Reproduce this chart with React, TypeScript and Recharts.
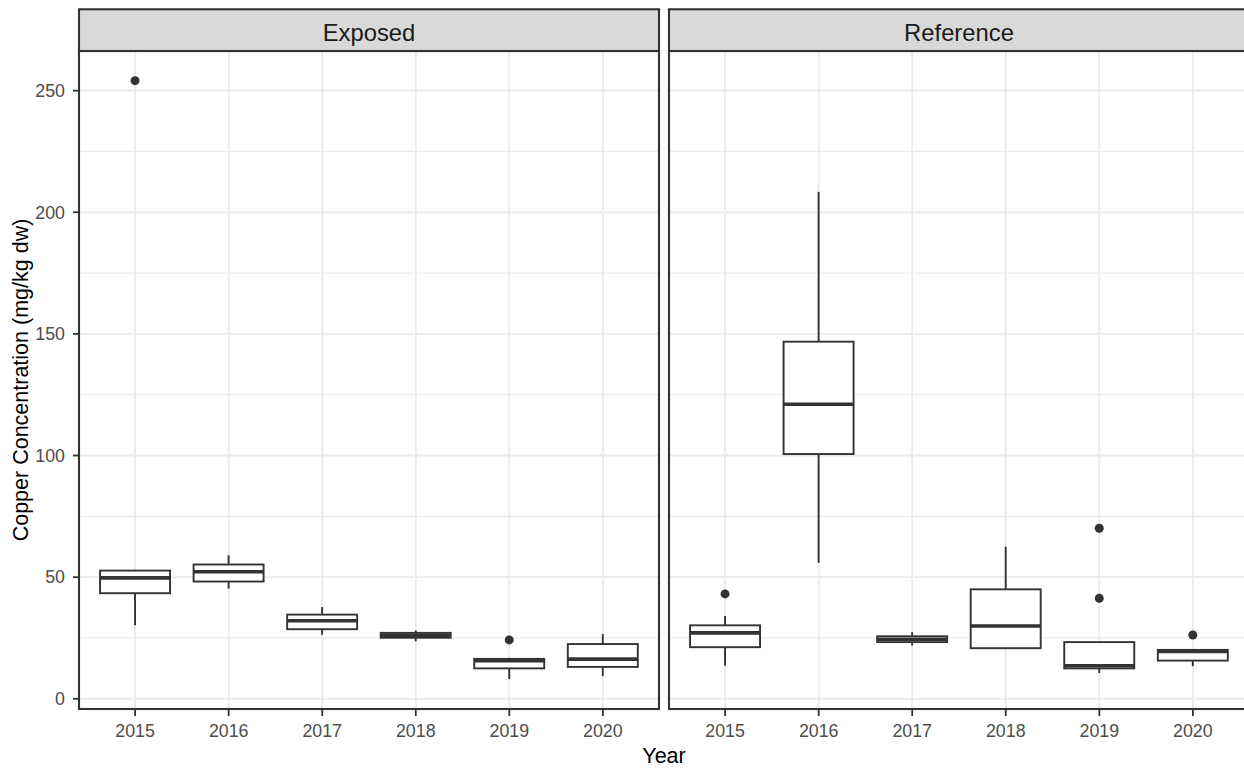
import React from 'react';
import { ComposedChart, Bar, XAxis, YAxis, CartesianGrid } from 'recharts';

const years = ['2015', '2016', '2017', '2018', '2019', '2020'];

const exposedMin = [30.2, 45.3, 26.3, 23.6, 8.1, 9.3];
const exposedQ1 = [43.4, 48.2, 28.6, 25.1, 12.5, 13.1];
const exposedMedian = [49.7, 52.2, 32.1, 26.1, 15.7, 16.3];
const exposedQ3 = [52.7, 55.2, 34.6, 27.1, 16.4, 22.5];
const exposedMax = [52.7, 59.0, 37.7, 28.1, 16.4, 26.6];
const exposedOutliers: number[][] = [[254.1], [], [], [], [24.2], []];

const referenceMin = [13.6, 55.9, 21.9, 20.8, 10.6, 13.4];
const referenceQ1 = [21.2, 100.6, 23.3, 20.8, 12.5, 15.7];
const referenceMedian = [27.1, 121.1, 24.5, 29.9, 13.6, 19.5];
const referenceQ3 = [30.2, 146.8, 25.7, 45.0, 23.3, 20.1];
const referenceMax = [34.0, 208.4, 27.4, 62.5, 23.3, 20.1];
const referenceOutliers: number[][] = [[43.1], [], [], [], [70.1, 41.3], [26.2]];

const yMajorTicks = [0, 50, 100, 150, 200, 250];
const yMinorTicks = [25, 75, 125, 175, 225];
const yDomain: [number, number] = [-4.2, 266.3];

const panelTitles = ['Exposed', 'Reference'];
const xTitle = 'Year';
const yTitle = 'Copper Concentration (mg/kg dw)';

const FONT = '"Liberation Sans", Arial, Helvetica, sans-serif';
const DARK = '#333333';

function buildRows(
  mins: number[],
  q1s: number[],
  meds: number[],
  q3s: number[],
  maxs: number[],
  outs: number[][]
) {
  return years.map((year, i) => ({
    year,
    whisker: [mins[i], maxs[i]],
    min: mins[i],
    q1: q1s[i],
    median: meds[i],
    q3: q3s[i],
    max: maxs[i],
    outliers: outs[i],
  }));
}

const exposedRows = buildRows(exposedMin, exposedQ1, exposedMedian, exposedQ3, exposedMax, exposedOutliers);
const referenceRows = buildRows(referenceMin, referenceQ1, referenceMedian, referenceQ3, referenceMax, referenceOutliers);

const BoxShape = (props: any) => {
  const { x, y, width, height, payload } = props;
  if (!payload || height == null) return null;
  const { min, max, q1, median, q3, outliers } = payload;
  const k = height / (max - min);
  const py = (v: number) => y + (max - v) * k;
  const cx = x + width / 2;
  return (
    <g>
      {outliers.map((o: number, i: number) => (
        <circle key={i} cx={cx} cy={py(o)} r={4.5} fill={DARK} />
      ))}
      <line x1={cx} x2={cx} y1={py(max)} y2={py(q3)} stroke={DARK} strokeWidth={1.9} />
      <line x1={cx} x2={cx} y1={py(q1)} y2={py(min)} stroke={DARK} strokeWidth={1.9} />
      <rect
        x={x}
        y={py(q3)}
        width={width}
        height={Math.max(py(q1) - py(q3), 0)}
        fill="#FFFFFF"
        stroke={DARK}
        strokeWidth={1.9}
      />
      <line x1={x} x2={x + width} y1={py(median)} y2={py(median)} stroke={DARK} strokeWidth={3.6} />
    </g>
  );
};

function Panel({ rows, left, showY }: { rows: any[]; left: number; showY: boolean }) {
  const axisW = showY ? 79 : 0;
  return (
    <div style={{ position: 'absolute', left, top: 51 }}>
      <ComposedChart
        width={axisW + 580}
        height={698}
        data={rows}
        margin={{ top: 0, right: 0, bottom: 0, left: 0 }}
        barCategoryGap="12.5%"
      >
        <XAxis
          dataKey="year"
          type="category"
          padding={{ left: 9.35, right: 9.35 }}
          height={40}
          tickSize={7}
          tickMargin={8}
          axisLine={false}
          interval={0}
          tickLine={{ stroke: DARK, strokeWidth: 1.8 }}
          tick={{ fill: '#4D4D4D', fontSize: 17.8, fontFamily: FONT }}
        />
        <YAxis
          yAxisId="main"
          type="number"
          domain={yDomain}
          ticks={yMajorTicks}
          allowDataOverflow
          width={axisW}
          hide={!showY}
          tickSize={6}
          tickMargin={8}
          axisLine={false}
          tickLine={{ stroke: DARK, strokeWidth: 1.8 }}
          tick={{ fill: '#4D4D4D', fontSize: 17.8, fontFamily: FONT }}
        />
        <YAxis yAxisId="minor" type="number" domain={yDomain} ticks={yMinorTicks} allowDataOverflow hide />
        <CartesianGrid yAxisId="minor" vertical={false} stroke="#EBEBEB" strokeWidth={1.2} />
        <CartesianGrid yAxisId="main" stroke="#EBEBEB" strokeWidth={1.9} />
        <Bar yAxisId="main" dataKey="whisker" shape={BoxShape} isAnimationActive={false} />
      </ComposedChart>
    </div>
  );
}

export default function App() {
  const panels = [
    { x: 79, title: panelTitles[0] },
    { x: 669, title: panelTitles[1] },
  ];
  return (
    <div
      style={{
        position: 'fixed',
        left: 0,
        top: 0,
        width: 1244,
        height: 769,
        overflow: 'hidden',
        background: '#FFFFFF',
        fontFamily: FONT,
      }}
    >
      <Panel rows={exposedRows} left={0} showY={true} />
      <Panel rows={referenceRows} left={669} showY={false} />
      <svg
        width={1244}
        height={769}
        style={{ position: 'absolute', left: 0, top: 0, pointerEvents: 'none' }}
      >
        {panels.map((p) => (
          <g key={p.title}>
            <rect x={p.x} y={51} width={580} height={658} fill="none" stroke={DARK} strokeWidth={2.1} />
            <rect x={p.x} y={9.3} width={580} height={41.7} fill="#D9D9D9" stroke={DARK} strokeWidth={2.1} />
            <text
              x={p.x + 290}
              y={40.5}
              textAnchor="middle"
              fontSize={23.8}
              fill="#1A1A1A"
              fontFamily={FONT}
            >
              {p.title}
            </text>
          </g>
        ))}
        <text x={664} y={763} textAnchor="middle" fontSize={21.5} fill="#000000" fontFamily={FONT}>
          {xTitle}
        </text>
        <text
          transform="translate(28,380) rotate(-90)"
          textAnchor="middle"
          fontSize={21.5}
          fill="#000000"
          fontFamily={FONT}
        >
          {yTitle}
        </text>
      </svg>
    </div>
  );
}
